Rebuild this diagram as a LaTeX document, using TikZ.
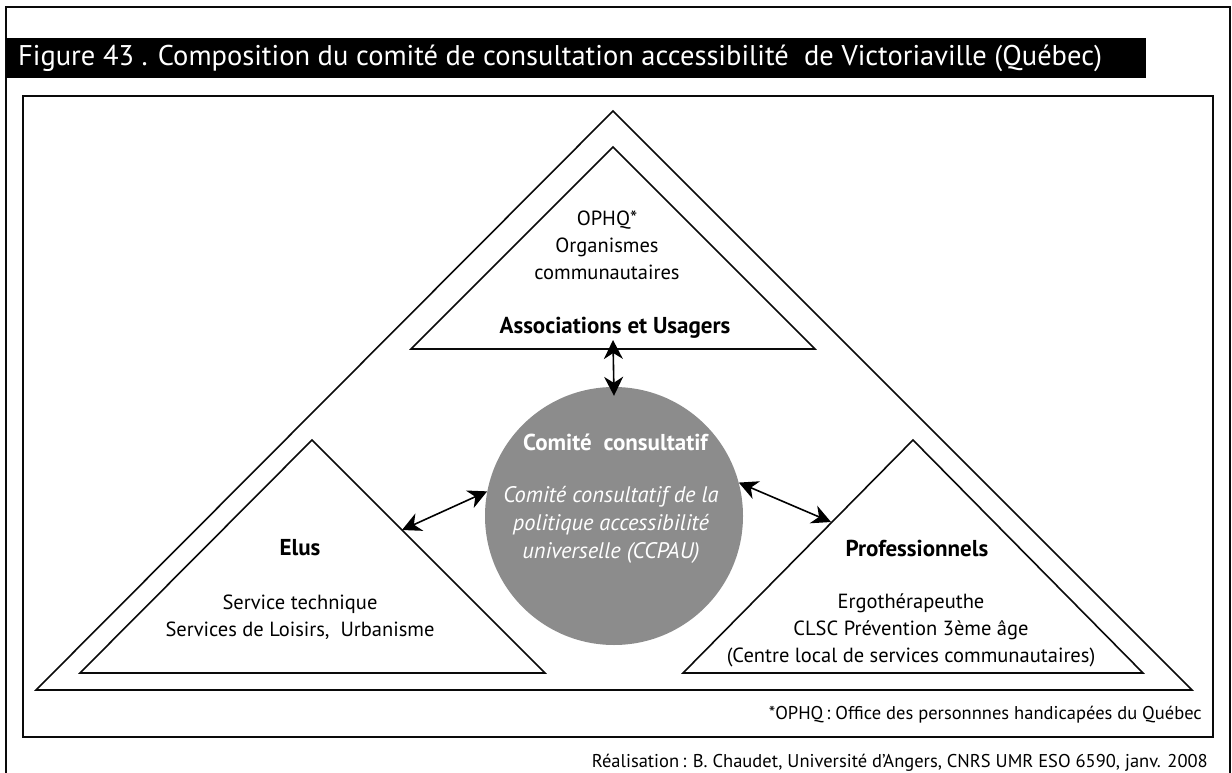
\documentclass[tikz,border=0pt]{standalone}
\usepackage{fontspec}
\setmainfont{PT Sans}
\usepackage{tikz}
\usetikzlibrary{arrows.meta, positioning, calc}
\definecolor{circleGray}{RGB}{140, 140, 140}
\definecolor{lineBlack}{RGB}{10, 10, 10}

\begin{document}
\begin{tikzpicture}[
    x=1pt, y=-1pt,
    frame/.style={
        draw=lineBlack,
        line width=2.2pt
    },
    pyramid/.style={
        draw=lineBlack,
        line width=1.6pt,
        line join=miter
    },
    bodytext/.style={
        align=center,
        inner sep=0pt,
        font=\fontsize{20.5}{27}\selectfont
    },
    notetext/.style={
        inner sep=0pt,
        font=\fontsize{18.5}{22}\selectfont
    },
    grouptitle/.style={
        bodytext,
        font=\fontsize{23}{27}\selectfont\bfseries
    },
    circletext/.style={
        bodytext,
        text=white,
        font=\fontsize{22.5}{28}\selectfont\itshape
    },
    link/.style={
        line width=1.6pt,
        {Stealth[length=19pt, width=19pt, inset=6pt]}-{Stealth[length=19pt, width=19pt, inset=6pt]}
    }
]
\useasboundingbox (0,0) rectangle (1232,773);

% Frames
\draw[frame] (6,775) -- (6,7) -- (1230,7) -- (1230,775);
\fill[black] (6,38) rectangle (1146,78);
\node[anchor=west, text=white, inner sep=0pt, font=\fontsize{28.5}{32}\selectfont] (title) at (18,58)
    {Figure 43 . Composition du comité de consultation accessibilité \ de Victoriaville (Québec)};
\draw[draw=lineBlack, line width=2pt] (23,96) rectangle (1213,737);

% Triangles
\draw[pyramid] (36,690) -- (613,111) -- (1192,690) -- cycle;
\draw[pyramid] (411,349) -- (613,147) -- (815,349) -- cycle;
\draw[pyramid] (80,673) -- (312,440) -- (545,673) -- cycle;
\draw[pyramid] (683,673) -- (913,440) -- (1143,673) -- cycle;

% Anchor points on the triangle sides
\coordinate (usagersBase) at (613,340);
\coordinate (elusSide) at (402,530);
\coordinate (prosSide) at (831,522);

% Central committee
\node[circle, fill=circleGray, minimum size=258pt, inner sep=0pt] (ccpau) at (614,516) {};
\node[grouptitle, text=white, anchor=west] (ccTitle) at (523,442) {Comité \ consultatif};
\node[circletext] (ccText) at (611,525) {Comité consultatif de la\\politique accessibilité\\universelle (CCPAU)};

% Associations et Usagers
\node[bodytext] (usagersText) at (607,245) {OPHQ*\\Organismes\\communautaires};
\node[grouptitle] (usagers) at (615,328) {Associations et Usagers};

% Elus
\node[grouptitle] (elus) at (300,548) {Elus};
\node[bodytext] (elusText) at (300,617) {Service technique\\Services de Loisirs, \ Urbanisme};

% Professionnels
\node[grouptitle] (pros) at (917,548) {Professionnels};
\node[bodytext] (prosText) at (911,630) {Ergothérapeuthe\\CLSC Prévention 3ème âge\\(Centre local de services communautaires)};

% Links
\draw[link] (usagersBase) -- ($(ccpau.north)+(0,9)$);
\draw[link] (elusSide) -- (ccpau.169);
\draw[link] (ccpau.15) -- (prosSide);

% Notes
\node[notetext, anchor=east] (note) at (1202,715) {*OPHQ\,: Office des personnnes handicapées du Québec};
\node[notetext, anchor=base east] (credit) at (1208,767) {Réalisation\,: B. Chaudet, Université d'Angers, CNRS UMR ESO 6590, janv. 2008};

\end{tikzpicture}
\end{document}
